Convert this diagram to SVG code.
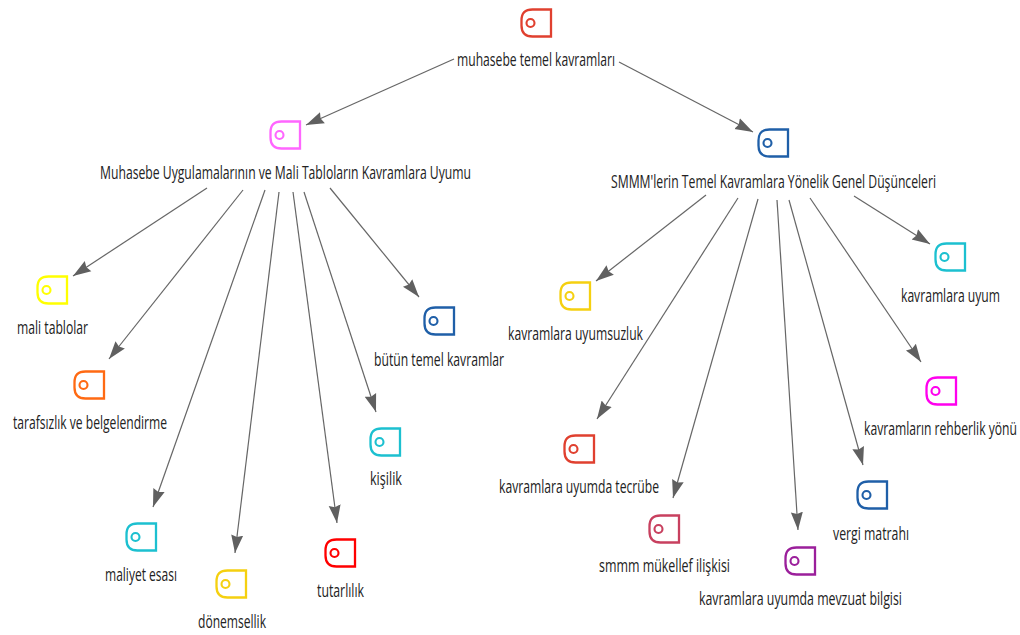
<svg xmlns="http://www.w3.org/2000/svg" width="1020" height="635" viewBox="0 0 1020 635">
<defs>
<marker id="arrow" markerUnits="userSpaceOnUse" markerWidth="20" markerHeight="14" refX="18" refY="7" orient="auto"><path d="M0 1L18 7L0 13L2 7Z" fill="#606060"/></marker>
<g id="icon"><path d="M30 .5H11.5Q.5 .5 .5 11.5V16.500Q.5 27.500 11.500 27.500H30Z" fill="#fff" stroke="currentColor" stroke-width="2.300"/><circle cx="9.500" cy="14" r="4" fill="none" stroke="currentColor" stroke-width="2.100"/></g>
</defs>
<style>
text{font-family:"Open Sans","Noto Sans","Liberation Sans",sans-serif;font-size:17.5px;fill:#222}
#connectors line{stroke:#666;stroke-width:1.200;marker-end:url(#arrow)}
</style>
<rect width="1020" height="635" fill="#fff"/>
<g id="connectors">
<line x1="454" y1="59" x2="306" y2="125"/>
<line x1="619" y1="62" x2="753" y2="132"/>
<line x1="207" y1="188" x2="73" y2="276"/>
<line x1="243" y1="190" x2="109" y2="359"/>
<line x1="265" y1="190" x2="153" y2="507"/>
<line x1="279" y1="192" x2="235" y2="553"/>
<line x1="293" y1="192" x2="337" y2="523"/>
<line x1="304" y1="192" x2="376" y2="412"/>
<line x1="330" y1="188" x2="419" y2="297"/>
<line x1="706" y1="195" x2="596" y2="281"/>
<line x1="738" y1="198" x2="597" y2="419"/>
<line x1="758" y1="199" x2="673" y2="498"/>
<line x1="777" y1="200" x2="798" y2="530"/>
<line x1="789" y1="200" x2="863" y2="465"/>
<line x1="810" y1="198" x2="921" y2="362"/>
<line x1="854" y1="196" x2="930" y2="244"/>
</g>
<g id="n0"><use href="#icon" x="521" y="9" color="#e0402f"/><text transform="translate(457 66) scale(.72 1)" textLength="219.4" lengthAdjust="spacingAndGlyphs">muhasebe temel kavramları</text></g>
<g id="n1"><use href="#icon" x="270" y="121" color="#ff66ff"/><text transform="translate(100 179) scale(.72 1)" textLength="515.300" lengthAdjust="spacingAndGlyphs">Muhasebe Uygulamalarının ve Mali Tabloların Kavramlara Uyumu</text></g>
<g id="n2"><use href="#icon" x="758" y="129" color="#1f5fa8"/><text transform="translate(611 188) scale(.72 1)" textLength="451.400" lengthAdjust="spacingAndGlyphs">SMMM'lerin Temel Kavramlara Yönelik Genel Düşünceleri</text></g>
<g id="n3"><use href="#icon" x="37" y="276" color="#ffff00"/><text transform="translate(17 334) scale(.72 1)" textLength="98.600" lengthAdjust="spacingAndGlyphs">mali tablolar</text></g>
<g id="n4"><use href="#icon" x="74" y="371" color="#ff6a13"/><text transform="translate(13 429) scale(.72 1)" textLength="213.900" lengthAdjust="spacingAndGlyphs">tarafsızlık ve belgelendirme</text></g>
<g id="n5"><use href="#icon" x="126" y="523" color="#1cc0d0"/><text transform="translate(105 581) scale(.72 1)" textLength="100" lengthAdjust="spacingAndGlyphs">maliyet esası</text></g>
<g id="n6"><use href="#icon" x="216" y="570" color="#f5d010"/><text transform="translate(198 628) scale(.72 1)" textLength="94.400" lengthAdjust="spacingAndGlyphs">dönemsellik</text></g>
<g id="n7"><use href="#icon" x="325" y="539" color="#ff0000"/><text transform="translate(317 597) scale(.72 1)" textLength="65.300" lengthAdjust="spacingAndGlyphs">tutarlılık</text></g>
<g id="n8"><use href="#icon" x="370" y="428" color="#1cc0d0"/><text transform="translate(370 485) scale(.72 1)" textLength="44.400" lengthAdjust="spacingAndGlyphs">kişilik</text></g>
<g id="n9"><use href="#icon" x="424" y="307" color="#1f5fa8"/><text transform="translate(374 366) scale(.72 1)" textLength="180.600" lengthAdjust="spacingAndGlyphs">bütün temel kavramlar</text></g>
<g id="n10"><use href="#icon" x="560" y="282" color="#f5d010"/><text transform="translate(508 340) scale(.72 1)" textLength="187.500" lengthAdjust="spacingAndGlyphs">kavramlara uyumsuzluk</text></g>
<g id="n11"><use href="#icon" x="564" y="435" color="#e0402f"/><text transform="translate(499 493) scale(.72 1)" textLength="222.200" lengthAdjust="spacingAndGlyphs">kavramlara uyumda tecrübe</text></g>
<g id="n12"><use href="#icon" x="649" y="515" color="#c8405f"/><text transform="translate(599 572) scale(.72 1)" textLength="181.900" lengthAdjust="spacingAndGlyphs">smmm mükellef ilişkisi</text></g>
<g id="n13"><use href="#icon" x="785" y="547" color="#9b1f9b"/><text transform="translate(699 605) scale(.72 1)" textLength="281.900" lengthAdjust="spacingAndGlyphs">kavramlara uyumda mevzuat bilgisi</text></g>
<g id="n14"><use href="#icon" x="857" y="481" color="#1f5fa8"/><text transform="translate(833 540) scale(.72 1)" textLength="105.600" lengthAdjust="spacingAndGlyphs">vergi matrahı</text></g>
<g id="n15"><use href="#icon" x="926" y="377" color="#ff00ee"/><text transform="translate(864 435) scale(.66 1)" textLength="231.800" lengthAdjust="spacingAndGlyphs">kavramların rehberlik yönü</text></g>
<g id="n16"><use href="#icon" x="935" y="243" color="#1cc0d0"/><text transform="translate(901 302) scale(.72 1)" textLength="137.500" lengthAdjust="spacingAndGlyphs">kavramlara uyum</text></g>
</svg>
